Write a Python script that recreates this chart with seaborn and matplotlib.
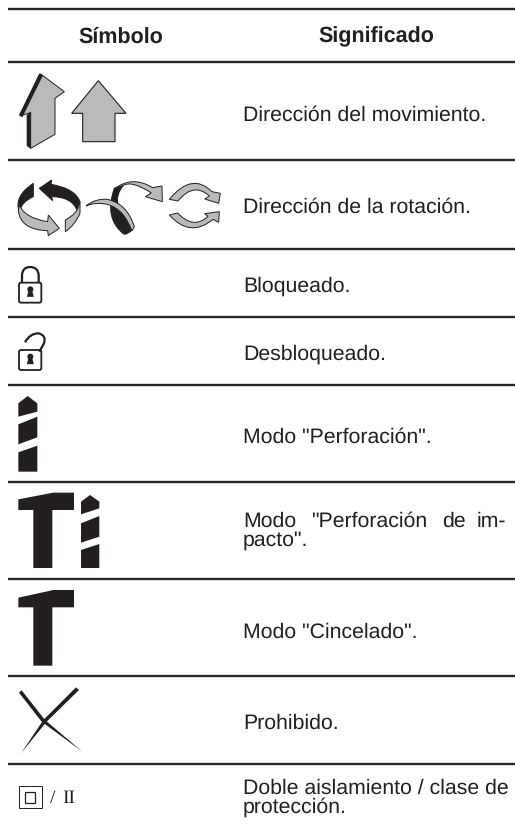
import matplotlib
matplotlib.use("Agg")
import matplotlib.pyplot as plt
import pandas as pd
import seaborn as sns
from matplotlib.path import Path
from matplotlib.patches import PathPatch, FancyBboxPatch, Circle, Rectangle

HEADERS = ["Símbolo", "Significado"]
RULE_Y = [9, 62, 160, 248.5, 317, 385, 482, 579, 676, 764]
TEXT_ROWS = [
    ("Dirección del movimiento.", 120.5),
    ("Dirección de la rotación.", 213),
    ("Bloqueado.", 292),
    ("Desbloqueado.", 360),
    ('Modo "Perforación".', 442.5),
    ('pacto".', 545.5),
    ("Modo \"Cincelado\".", 638),
    ("Prohibido.", 729),
    ("Doble aislamiento / clase de", 794),
    ("protección.", 812.5),
]
JUSTIFIED_WORDS = ["Modo", '"Perforación', "de", "im-"]
JUSTIFIED_X = [243, 311.5, 442, 476.5]
INK = "#231f20"
GREY = "#b9babc"

sns.set_theme(style="white")
plt.rcParams["font.family"] = ["Liberation Sans", "DejaVu Sans"]
plt.rcParams["text.hinting"] = "none"

fig = plt.figure(figsize=(5.15, 8.27), dpi=100, facecolor="white")
ax = fig.add_axes([0, 0, 1, 1])

rules = pd.DataFrame(
    [{"x": x, "y": y, "row": i} for i, y in enumerate(RULE_Y) for x in (8, 515)]
)
sns.lineplot(data=rules, x="x", y="y", units="row", estimator=None, color="#2b2829",
             lw=1.7, ax=ax, legend=False, solid_capstyle="butt")
ax.set_xlim(0, 515)
ax.set_ylim(827, 0)
ax.axis("off")
sns.despine(ax=ax, left=True, bottom=True)


def shape(cmds, ox=0.0, oy=0.0, s=1 / 3, fc=GREY, ec=INK, lw=0.7, closed=True):
    verts, codes = [], []
    for c in cmds:
        pts = [(ox + c[i] * s, oy + c[i + 1] * s) for i in range(1, len(c), 2)]
        verts += pts
        codes += {"M": [Path.MOVETO], "L": [Path.LINETO],
                  "Q": [Path.CURVE3, Path.CURVE3]}[c[0]]
    if closed:
        verts.append(verts[0])
        codes.append(Path.CLOSEPOLY)
    ax.add_patch(PathPatch(Path(verts, codes), fc=fc, ec=ec, lw=lw, joinstyle="miter"))


def poly(pts, ox=0.0, oy=0.0, fc=INK, ec="none", lw=0.0):
    cmds = [("M", *pts[0])] + [("L", *p) for p in pts[1:]]
    shape(cmds, ox, oy, fc=fc, ec=ec, lw=lw)


# arrows
poly([(122, 222), (193, 275), (165, 295), (165, 403), (92, 445), (92, 338), (60, 348)],
     fc=GREY, ec=INK, lw=0.7)
poly([(57, 345), (118, 220), (129, 226), (67, 352)])
poly([(80, 345), (92, 335), (92, 447), (80, 437)])
poly([(295, 242), (378, 340), (345, 340), (345, 425), (248, 425), (248, 340), (215, 340)],
     fc=GREY, ec=INK, lw=0.8)

# rotation icon 1
shape([("M", 100, 550), ("L", 100, 590), ("Q", 65, 605, 58, 635), ("Q", 40, 590, 100, 550)], fc=INK)
shape([("M", 58, 615), ("Q", 75, 655, 143, 665), ("L", 145, 645), ("L", 178, 685),
       ("L", 145, 707), ("L", 143, 692), ("Q", 60, 690, 55, 630)])
shape([("M", 118, 565), ("L", 155, 540), ("L", 153, 553), ("Q", 225, 565, 240, 605),
       ("L", 232, 632), ("Q", 215, 590, 155, 590), ("L", 158, 602)], fc=INK)
shape([("M", 240, 605), ("L", 240, 640), ("Q", 225, 675, 196, 695), ("L", 196, 660),
       ("Q", 232, 640, 235, 620)])

# rotation icon 2
o2 = (82, 175)
shape([("M", 97, 40), ("L", 125, 30), ("Q", 100, 60, 108, 90), ("L", 150, 165),
       ("Q", 135, 180, 125, 177), ("Q", 65, 130, 97, 40)], *o2, fc=INK)
shape([("M", 12, 93), ("Q", 40, 70, 75, 73), ("Q", 135, 85, 157, 155), ("L", 150, 168),
       ("Q", 125, 100, 75, 88), ("Q", 40, 80, 12, 93)], *o2)
shape([("M", 97, 42), ("Q", 150, 0, 212, 38), ("L", 240, 33), ("L", 241, 80), ("L", 190, 65),
       ("L", 208, 54), ("Q", 150, 15, 122, 32)], *o2)

# rotation icon 3
o3 = (162, 175)
shape([("M", 22, 73), ("Q", 90, -10, 150, 50), ("L", 175, 55), ("L", 170, 85), ("L", 128, 72),
       ("L", 142, 63), ("Q", 95, 20, 48, 78)], *o3)
shape([("M", 22, 120), ("L", 47, 114), ("Q", 95, 165, 138, 124), ("L", 128, 116), ("L", 172, 110),
       ("L", 170, 142), ("L", 153, 133), ("Q", 85, 190, 22, 120)], *o3)


# locks
def lock(body_top, open_shackle):
    ox, oy = 10, 255
    s = 1 / 3
    x0, x1 = ox + 27 * s, ox + 94 * s
    y0, y1 = oy + body_top * s, oy + (body_top + 60) * s
    ax.add_patch(FancyBboxPatch((x0 + 2, y0 + 2), x1 - x0 - 4, y1 - y0 - 4,
                                boxstyle="round,pad=2", fc="white", ec=INK, lw=1.3))
    cx, cy = ox + 61 * s, oy + (body_top + 20) * s
    ax.add_patch(Circle((cx, cy), 3.0, fc=INK, ec="none"))
    ax.add_patch(PathPatch(Path([(cx - 1.5, cy), (cx + 1.5, cy), (cx + 3.5, cy + 7.5),
                                 (cx - 3.5, cy + 7.5), (cx - 1.5, cy)]), fc=INK, ec="none"))
    if open_shackle:
        shape([("M", 45, 262), ("Q", 60, 235, 85, 235), ("Q", 110, 240, 102, 265),
               ("L", 88, 290)], ox, oy, fc="none", lw=1.6, closed=False)
    else:
        shape([("M", 36, 83), ("L", 36, 60), ("Q", 38, 36, 60, 36), ("Q", 84, 36, 86, 60),
               ("L", 86, 83)], ox, oy, fc="none", lw=1.6, closed=False)


lock(83, False)
lock(285, True)

# drills
o = (0, 270)
poly([(55, 400), (83, 378), (112, 400), (112, 425), (55, 440)], *o)
poly([(55, 463), (112, 440), (112, 502), (55, 523)], *o)
poly([(55, 547), (112, 527), (112, 605), (55, 605)], *o)

poly([(243, 695), (270, 675), (298, 695), (298, 715), (243, 733)], *o)
poly([(243, 760), (298, 738), (298, 800), (243, 818)], *o)
poly([(243, 840), (298, 822), (298, 894), (243, 894)], *o)

# hammers
poly([(55, 688), (160, 668), (222, 668), (222, 720), (157, 720), (157, 894), (100, 894),
      (100, 720), (55, 720)], *o)
o = (0, 550)
poly([(55, 143), (160, 120), (222, 120), (222, 172), (157, 172), (157, 347), (100, 347),
      (100, 172), (55, 172)], *o)

# prohibited
poly([(57, 428), (65, 421), (135, 510), (247, 605), (125, 515)], *o)
poly([(237, 420), (228, 412), (130, 510), (63, 610), (140, 515)], *o)

# double insulation
ax.add_patch(Rectangle((18.5, 785.7), 23, 22.5, fc="none", ec=INK, lw=0.7))
ax.add_patch(Rectangle((24.7, 791.5), 10.5, 11.2, fc="none", ec=INK, lw=0.9))
ax.text(50.5, 803, "/", family="Liberation Serif", fontsize=14, color=INK, va="baseline")
ax.text(62.5, 803, "II", family="Liberation Serif", fontsize=14, color=INK, va="baseline")

# text
for label, x in zip(HEADERS, (121, 376)):
    ax.text(x, 42.5, label, ha="center", va="baseline", fontsize=15.5, fontweight="bold", color=INK)
for label, y in TEXT_ROWS:
    ax.text(243, y, label, va="baseline", fontsize=15.3, color=INK)
for word, x in zip(JUSTIFIED_WORDS, JUSTIFIED_X):
    ax.text(x, 527, word, va="baseline", fontsize=15.3, color=INK)

fig.savefig("out.png", dpi=100, facecolor="white")
